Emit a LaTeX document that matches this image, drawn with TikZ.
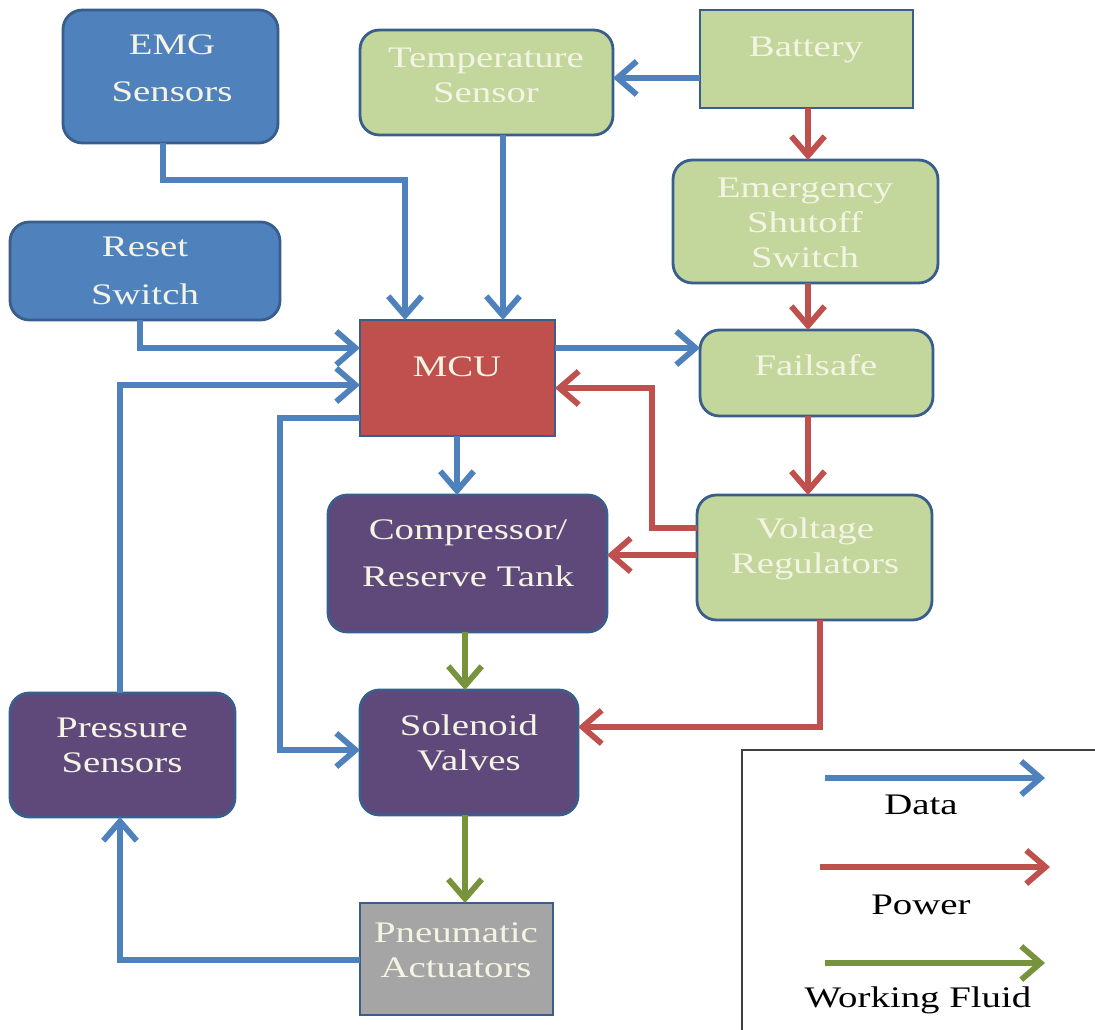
\documentclass[tikz,border=0pt]{standalone}
\usepackage{fontspec}
\setmainfont{Liberation Serif}[FakeStretch=1.3]
\usetikzlibrary{arrows.meta}
\definecolor{bluefill}{HTML}{4F81BD}
\definecolor{greenfill}{HTML}{C3D69B}
\definecolor{redfill}{HTML}{C0504D}
\definecolor{purplefill}{HTML}{5F497A}
\definecolor{grayfill}{HTML}{A5A5A5}
\definecolor{bord}{HTML}{3A5E8C}
\definecolor{txtc}{HTML}{F4F4E4}
\definecolor{arblue}{HTML}{4F81BD}
\definecolor{arred}{HTML}{C0504D}
\definecolor{argreen}{HTML}{77933C}
\definecolor{legbord}{HTML}{404040}
\tikzset{
  box/.style={draw=bord, line width=1.6pt, outer sep=0pt, inner sep=0pt},
  rbox/.style={box, rounded corners=11pt},
  bluebox/.style={rbox, fill=bluefill},
  greenbox/.style={rbox, fill=greenfill},
  greenrect/.style={box, fill=greenfill},
  purplebox/.style={rbox, fill=purplefill},
  lbl/.style={text=txtc, align=center, font=\fontsize{17pt}{20pt}\selectfont, inner sep=0pt},
  legtxt/.style={text=black, align=center, font=\fontsize{17pt}{20pt}\selectfont, inner sep=0pt},
  conn/.style={line width=3.3pt, -{Straight Barb[length=11pt,width=19pt]}},
  data/.style={conn, draw=arblue},
  power/.style={conn, draw=arred},
  fluid/.style={conn, draw=argreen},
}
\begin{document}
\begin{tikzpicture}[x=0.02cm,y=-0.02cm]
\useasboundingbox (0,0) rectangle (1095,1030);
\fill[white] (0,0) rectangle (1095,1030);

% boxes
\node[bluebox, minimum width=4.30cm, minimum height=2.66cm] (emg) at (170.5,76.5) {};
\node[greenbox, minimum width=5.06cm, minimum height=2.10cm] (temp) at (486.5,82.5) {};
\node[greenrect, minimum width=4.26cm, minimum height=1.96cm] (bat) at (806.5,59) {};
\node[greenbox, minimum width=5.30cm, minimum height=2.46cm] (emer) at (805.5,221.5) {};
\node[bluebox, minimum width=5.40cm, minimum height=1.96cm] (reset) at (145,271) {};
\node[box, fill=redfill, minimum width=3.90cm, minimum height=2.32cm] (mcu) at (457.5,378) {};
\node[greenbox, minimum width=4.66cm, minimum height=1.72cm] (fail) at (816.5,373) {};
\node[purplebox, minimum width=5.58cm, minimum height=2.74cm] (comp) at (467.5,563.5) {};
\node[greenbox, minimum width=4.70cm, minimum height=2.50cm] (volt) at (814.5,557.5) {};
\node[purplebox, minimum width=4.50cm, minimum height=2.48cm] (press) at (122.5,755) {};
\node[purplebox, minimum width=4.36cm, minimum height=2.50cm] (sol) at (469,752.5) {};
\node[box, fill=grayfill, minimum width=3.86cm, minimum height=2.24cm] (pneu) at (456.5,959) {};

% texts
\node[lbl] (emgT) at (172,68) {EMG\\[7pt]Sensors};
\node[lbl] (tempT) at (486,75) {Temperature\\Sensor};
\node[lbl] (batT) at (806,50) {Battery};
\node[lbl] (emerT) at (805,223) {Emergency\\Shutoff\\Switch};
\node[lbl] (resetT) at (145,271) {Reset\\[7pt]Switch};
\node[lbl] (mcuT) at (457,367) {MCU};
\node[lbl] (failT) at (816,365) {Failsafe};
\node[lbl] (compT) at (468,553) {Compressor/\\[7pt]Reserve Tank};
\node[lbl] (voltT) at (815,549) {Voltage\\Regulators};
\node[lbl] (pressT) at (122,745) {Pressure\\Sensors};
\node[lbl] (solT) at (469,743) {Solenoid\\Valves};
\node[lbl] (pneuT) at (456,950) {Pneumatic\\Actuators};

% bend coordinates
\coordinate (c1) at (163,180);
\coordinate (c2) at (405,180);
\coordinate (c3) at (503,0);
\coordinate (c4) at (140,348);
\coordinate (c5) at (120,385);
\coordinate (c6) at (280,418);
\coordinate (c7) at (280,750);
\coordinate (c8) at (457,0);
\coordinate (c9) at (0,348);
\coordinate (c10) at (0,78);
\coordinate (c11) at (808,0);
\coordinate (c12) at (652,528);
\coordinate (c13) at (652,388);
\coordinate (c14) at (0,555);
\coordinate (c15) at (820,727);
\coordinate (c16) at (465,0);
\coordinate (c17) at (120,960);

% data connectors
\draw[data] (emg.south -| c1) -- (c1) -- (c2) -- (mcu.north -| c2);
\draw[data] (temp.south -| c3) -- (mcu.north -| c3);
\draw[data] (reset.south -| c4) -- (c4) -- (mcu.west |- c4);
\draw[data] (press.north -| c5) -- (c5) -- (mcu.west |- c5);
\draw[data] (mcu.west |- c6) -- (c6) -- (c7) -- (sol.west |- c7);
\draw[data] (mcu.south -| c8) -- (comp.north -| c8);
\draw[data] (mcu.east |- c9) -- (fail.west |- c9);
\draw[data] (bat.west |- c10) -- (temp.east |- c10);
\draw[data] (pneu.west |- c17) -- (c17) -- (press.south -| c17);

% power connectors
\draw[power] (bat.south -| c11) -- (emer.north -| c11);
\draw[power] (emer.south -| c11) -- (fail.north -| c11);
\draw[power] (fail.south -| c11) -- (volt.north -| c11);
\draw[power] (volt.west |- c12) -- (c12) -- (c13) -- (mcu.east |- c13);
\draw[power] (volt.west |- c14) -- (comp.east |- c14);
\draw[power] (volt.south -| c15) -- (c15) -- (sol.east |- c15);

% fluid connectors
\draw[fluid] (comp.south -| c16) -- (sol.north -| c16);
\draw[fluid] (sol.south -| c16) -- (pneu.north -| c16);

% legend
\draw[legbord, line width=1.2pt] (1100,750) -- (742,750) -- (742,1035);
\coordinate (l1s) at (825,778);
\coordinate (l1e) at (1045,778);
\coordinate (l2s) at (820,867);
\coordinate (l2e) at (1050,867);
\coordinate (l3s) at (825,963);
\coordinate (l3e) at (1045,963);
\draw[data] (l1s) -- (l1e);
\draw[power] (l2s) -- (l2e);
\draw[fluid] (l3s) -- (l3e);
\node[legtxt] (ldata) at (921,805) {Data};
\node[legtxt] (lpower) at (921,905) {Power};
\node[legtxt] (lfluid) at (918,1000) {Working Fluid};
\end{tikzpicture}
\end{document}
